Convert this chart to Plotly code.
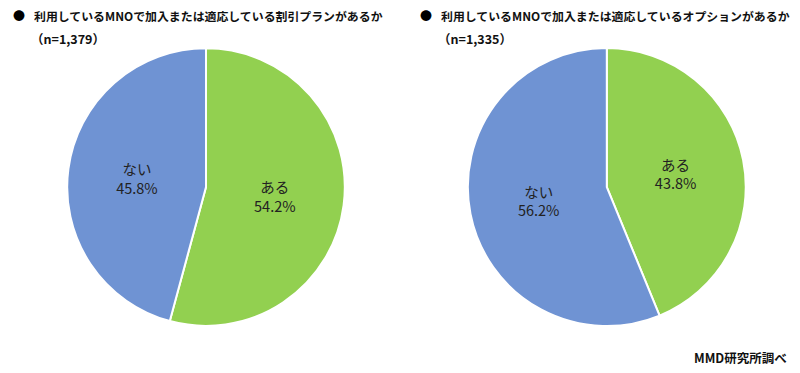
import plotly.graph_objects as go

labels = ["ある", "ない"]
plan_values = [54.2, 45.8]
option_values = [43.8, 56.2]
colors = ["#92D050", "#6F93D3"]

titles = [
    "利用しているMNOで加入または適応している割引プランがあるか",
    "利用しているMNOで加入または適応しているオプションがあるか",
]
ns = ["（n=1,379）", "（n=1,335）"]

font_main = "Noto Sans CJK JP"

fig = go.Figure()
for vals, dom in [(plan_values, [0.084, 0.431]), (option_values, [0.584, 0.933])]:
    fig.add_trace(go.Pie(
        labels=labels, values=vals, sort=False, direction="clockwise", rotation=0,
        marker=dict(colors=colors, line=dict(color="white", width=2)),
        texttemplate="%{label}<br>%{value:.1f}%", textposition="inside",
        insidetextorientation="horizontal",
        textfont=dict(family=font_main, size=14.5, color="#222222"),
        domain=dict(x=dom, y=[0.126, 0.871]), showlegend=False, hoverinfo="skip",
    ))

ann = []
for i, (t, n) in enumerate(zip(titles, ns)):
    x0 = 11 if i == 0 else 418
    ann.append(dict(text="●", x=x0 / 800, y=1 - 15 / 373, xref="paper", yref="paper",
                    xanchor="left", yanchor="middle", showarrow=False,
                    font=dict(family=font_main, size=12, color="black")))
    ann.append(dict(text="<b>" + t + "</b>", x=(x0 + 21) / 800, y=1 - 15 / 373, xref="paper", yref="paper",
                    xanchor="left", yanchor="middle", showarrow=False,
                    font=dict(family=font_main, size=11.9, color="#111111")))
    ann.append(dict(text="<b>" + n + "</b>", x=(x0 + 18) / 800, y=1 - 39 / 373, xref="paper", yref="paper",
                    xanchor="left", yanchor="middle", showarrow=False,
                    font=dict(family=font_main, size=12.5, color="#111111")))
ann.append(dict(text="<b>MMD研究所調べ</b>", x=789 / 800, y=1 - 357 / 373, xref="paper", yref="paper",
                xanchor="right", yanchor="middle", showarrow=False,
                font=dict(family=font_main, size=12.5, color="#111111")))

fig.update_layout(width=800, height=373, margin=dict(l=0, r=0, t=0, b=0),
                  paper_bgcolor="white", plot_bgcolor="white", annotations=ann)
fig.write_html("out.html")
